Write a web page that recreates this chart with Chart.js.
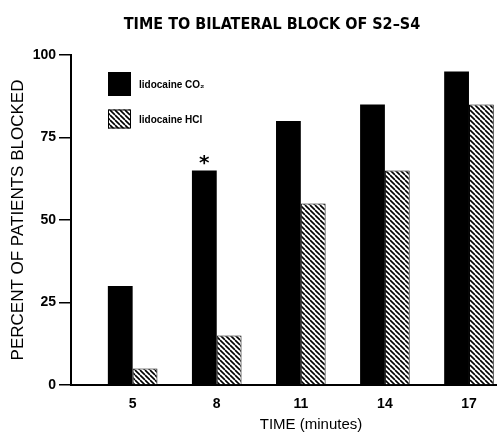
<!DOCTYPE html>
<html>
<head>
<meta charset="utf-8">
<script src="https://cdn.jsdelivr.net/npm/chart.js@4"></script>
<style>
  html, body { margin: 0; padding: 0; background: #fff; overflow: hidden; }
  #wrap { width: 497px; height: 434px; }
</style>
</head>
<body>
<div id="wrap"><canvas id="grafico" width="497" height="434"></canvas></div>
<script>
// ===== DADOS =====
const tempos = [5, 8, 11, 14, 17];
const valoresCO2 = [30, 65, 80, 85, 95];
const valoresHCl = [5, 15, 55, 65, 85];
const ticksY = [0, 25, 50, 75, 100];
const nomesSeries = ['lidocaine CO\u2082', 'lidocaine HCl'];
const marcados = [8]; // asterisco (diferença significativa)

const tituloGrafico = 'TIME TO BILATERAL BLOCK OF S2\u2013S4';
const tituloX = 'TIME (minutes)';
const tituloY = 'PERCENT OF PATIENTS BLOCKED';

// ===== HACHURA =====
function criarHachura(ctx) {
  const c = document.createElement('canvas');
  c.width = 5; c.height = 5;
  const p = c.getContext('2d');
  p.fillStyle = '#fff';
  p.fillRect(0, 0, 5, 5);
  p.strokeStyle = '#000';
  p.lineWidth = 1.6;
  p.beginPath();
  for (let k = -5; k <= 10; k += 5) {
    p.moveTo(k, 0);
    p.lineTo(k + 5, 5);
  }
  p.stroke();
  return ctx.createPattern(c, 'repeat');
}

const ctx = document.getElementById('grafico').getContext('2d');
const hachura = criarHachura(ctx);

// ===== PLUGIN: título, legenda, asterisco, título do eixo X =====
const extras = {
  id: 'extras',
  afterDraw(chart) {
    const c = chart.ctx;
    c.save();
    c.fillStyle = '#000';

    // Título
    c.font = 'bold 16px "DejaVu Sans Condensed", "Liberation Sans Narrow", sans-serif';
    c.textAlign = 'center';
    c.textBaseline = 'middle';
    c.fillText(tituloGrafico, 272, 25, 318);

    // Título eixo X
    c.font = '15px "Liberation Sans", Arial, sans-serif';
    c.fillText(tituloX, 311, 425);

    // Legenda
    const ds = chart.data.datasets;
    const linhas = [{ y: 84, h: 24 }, { y: 119, h: 19 }];
    c.textAlign = 'left';
    c.font = 'bold 10px "Liberation Sans", Arial, sans-serif';
    ds.forEach((d, i) => {
      const l = linhas[i];
      c.fillStyle = d.backgroundColor;
      c.fillRect(108, l.y - l.h / 2, 23, l.h);
      c.lineWidth = 1;
      c.strokeStyle = '#000';
      c.strokeRect(108.5, l.y - l.h / 2 + 0.5, 22, l.h - 1);
      c.fillStyle = '#000';
      c.fillText(d.label, 139, l.y + 1);
    });

    // Asterisco
    const meta = chart.getDatasetMeta(0);
    c.font = 'bold 20px "DejaVu Sans", sans-serif';
    c.textAlign = 'center';
    marcados.forEach(t => {
      const idx = tempos.indexOf(t);
      const bar = meta.data[idx];
      c.fillText('*', bar.x, bar.y - 7);
    });
    c.restore();
  }
};

new Chart(ctx, {
  type: 'bar',
  data: {
    datasets: [
      {
        label: nomesSeries[0],
        data: tempos.map((t, i) => ({ x: t, y: valoresCO2[i] })),
        backgroundColor: '#000',
        borderColor: '#000',
        borderWidth: 0
      },
      {
        label: nomesSeries[1],
        data: tempos.map((t, i) => ({ x: t, y: valoresHCl[i] })),
        backgroundColor: hachura,
        borderColor: '#000',
        borderWidth: 1
      }
    ]
  },
  plugins: [extras],
  options: {
    responsive: false,
    animation: false,
    layout: { padding: { top: 55, right: 0, left: 0, bottom: 0 } },
    categoryPercentage: 0.59,
    barPercentage: 1,
    plugins: {
      legend: { display: false },
      title: { display: false },
      tooltip: { enabled: false }
    },
    scales: {
      x: {
        type: 'linear',
        offset: false,
        min: 2.8,
        max: 18,
        afterBuildTicks: s => { s.ticks = tempos.map(v => ({ value: v })); },
        afterFit: s => { s.height = 49; },
        grid: { display: false, offset: false },
        border: { display: true, color: '#000', width: 2 },
        ticks: {
          color: '#000',
          padding: 3,
          font: { family: '"Liberation Sans", Arial, sans-serif', size: 14, weight: 'bold' }
        }
      },
      y: {
        min: 0,
        max: 100,
        afterBuildTicks: s => { s.ticks = ticksY.map(v => ({ value: v })); },
        afterFit: s => { s.width = 71; },
        grid: { display: true, drawOnChartArea: false, drawTicks: true, tickLength: 12, color: '#000', lineWidth: 1.5 },
        border: { display: true, color: '#000', width: 2 },
        ticks: {
          color: '#000',
          padding: 3,
          font: { family: '"Liberation Sans", Arial, sans-serif', size: 14, weight: 'bold' }
        },
        title: {
          display: true,
          text: tituloY,
          color: '#000',
          padding: { top: 8, bottom: 0 },
          font: { family: '"Liberation Sans", Arial, sans-serif', size: 17 }
        }
      }
    }
  }
});
</script>
</body>
</html>
